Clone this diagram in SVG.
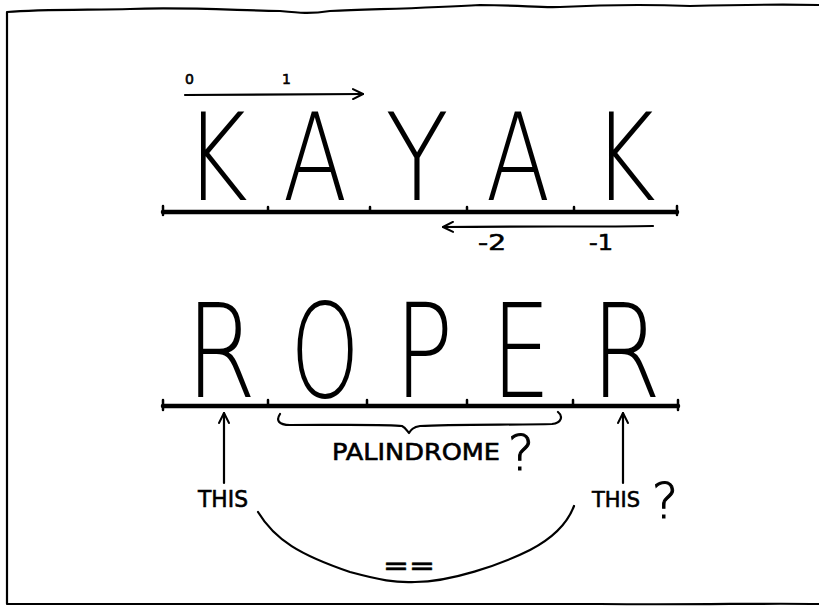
<svg xmlns="http://www.w3.org/2000/svg" width="819" height="613" viewBox="0 0 819 613">
<defs>
<marker id="ah" viewBox="0 0 12 12" refX="11" refY="6" markerWidth="12" markerHeight="12" markerUnits="userSpaceOnUse" orient="auto">
<path d="M1,1 L11,6 L1,11" fill="none" stroke="#000" stroke-width="2" stroke-linecap="round" stroke-linejoin="round"/>
</marker>
<style>
.ln{fill:none;stroke:#000;stroke-width:2.2;stroke-linecap:round;stroke-linejoin:round}
.base{fill:none;stroke:#000;stroke-width:4.5;stroke-linecap:round}
.tick{fill:none;stroke:#000;stroke-width:2.5;stroke-linecap:round}
.big{font-family:"DejaVu Sans","Liberation Sans",sans-serif;font-weight:200;fill:#000;text-anchor:middle}
.hand{font-family:"DejaVu Sans","Liberation Sans",sans-serif;font-weight:normal;fill:#000;stroke:#000;stroke-width:0.6}
.q{font-family:"DejaVu Sans","Liberation Sans",sans-serif;font-weight:200;fill:#000;stroke:#000;stroke-width:1;text-anchor:middle}
</style>
</defs>
<rect width="819" height="613" fill="#fff"/>
<path id="border" class="ln" d="M7,604 L7,12 C40,9 90,10 130,9 C180,7 230,10 280,11 C300,13 310,14 330,11 C380,9 430,8 480,5 C520,5 540,8 560,7 C600,5 640,4 690,6 C730,5 770,4 819,5 M7,604 C200,605 400,603 600,604 C700,605 760,603 819,604"/>
<g id="kayak">
<text class="big" font-size="121" transform="translate(216,200) scale(0.8,1)">K</text>
<text class="big" font-size="121" transform="translate(315,200) scale(0.78,1)">A</text>
<text class="big" font-size="121" transform="translate(417,200) scale(0.86,1)">Y</text>
<text class="big" font-size="121" transform="translate(518,200) scale(0.78,1)">A</text>
<text class="big" font-size="121" transform="translate(624,200) scale(0.8,1)">K</text>
<path class="base" d="M163,212 L677,212"/>
<path class="tick" d="M163,206 L163,215 M268,207 L268,212 M370,207 L370,212 M467,207 L467,212 M574,207 L574,212 M677,206 L677,215"/>
</g>
<g id="roper">
<text class="big" font-size="130" transform="translate(221,397) scale(0.78,1)">R</text>
<text class="big" font-size="130" transform="translate(325,397) scale(0.68,1)">O</text>
<text class="big" font-size="130" transform="translate(424,397) scale(0.75,1)">P</text>
<text class="big" font-size="130" transform="translate(521,397) scale(0.72,1)">E</text>
<text class="big" font-size="130" transform="translate(626,397) scale(0.78,1)">R</text>
<path class="base" d="M163,406 L678,406"/>
<path class="tick" d="M163,400 L163,410 M268,400 L268,406 M367,400 L367,406 M467,400 L467,406 M573,400 L573,406 M678,400 L678,410"/>
</g>
<g id="labels">
<text class="hand" font-size="14" x="185" y="84">0</text>
<text class="hand" font-size="14" x="282" y="84">1</text>
<text class="hand" font-size="21" x="478" y="250" textLength="28" lengthAdjust="spacingAndGlyphs">-2</text>
<text class="hand" font-size="21" x="589" y="250" textLength="24" lengthAdjust="spacingAndGlyphs">-1</text>
<text class="hand" font-size="23" x="332" y="460" textLength="168" lengthAdjust="spacingAndGlyphs">PALINDROME</text>
<text class="q" font-size="50" x="521" y="470">?</text>
<text class="hand" font-size="23" x="198" y="507" textLength="50" lengthAdjust="spacingAndGlyphs">THIS</text>
<text class="hand" font-size="22" x="592" y="507" textLength="48" lengthAdjust="spacingAndGlyphs">THIS</text>
<text class="q" font-size="50" x="665" y="518">?</text>
<text class="hand" font-size="26" x="383" y="575" textLength="52" lengthAdjust="spacingAndGlyphs">==</text>
</g>
<g id="connectors">
<path class="ln" d="M185,95 L363,94" marker-end="url(#ah)"/>
<path class="ln" d="M653,226 C600,227 520,226 443,227" marker-end="url(#ah)"/>
<path class="ln" d="M280,414 C276,420 278,425 290,425 C330,425 390,424 402,426 C406,428 407,431 409,433 C411,430 413,427 420,426 C450,424 520,425 552,424 C562,423 563,416 558,412"/>
<path class="ln" d="M224,483 L224,413" marker-end="url(#ah)"/>
<path class="ln" d="M623,483 L623,413" marker-end="url(#ah)"/>
<path class="ln" d="M258,512 C275,540 300,555 350,572 C380,580 395,583 415,582 C450,582 500,565 530,550 C555,537 568,522 574,506"/>
</g>
</svg>
